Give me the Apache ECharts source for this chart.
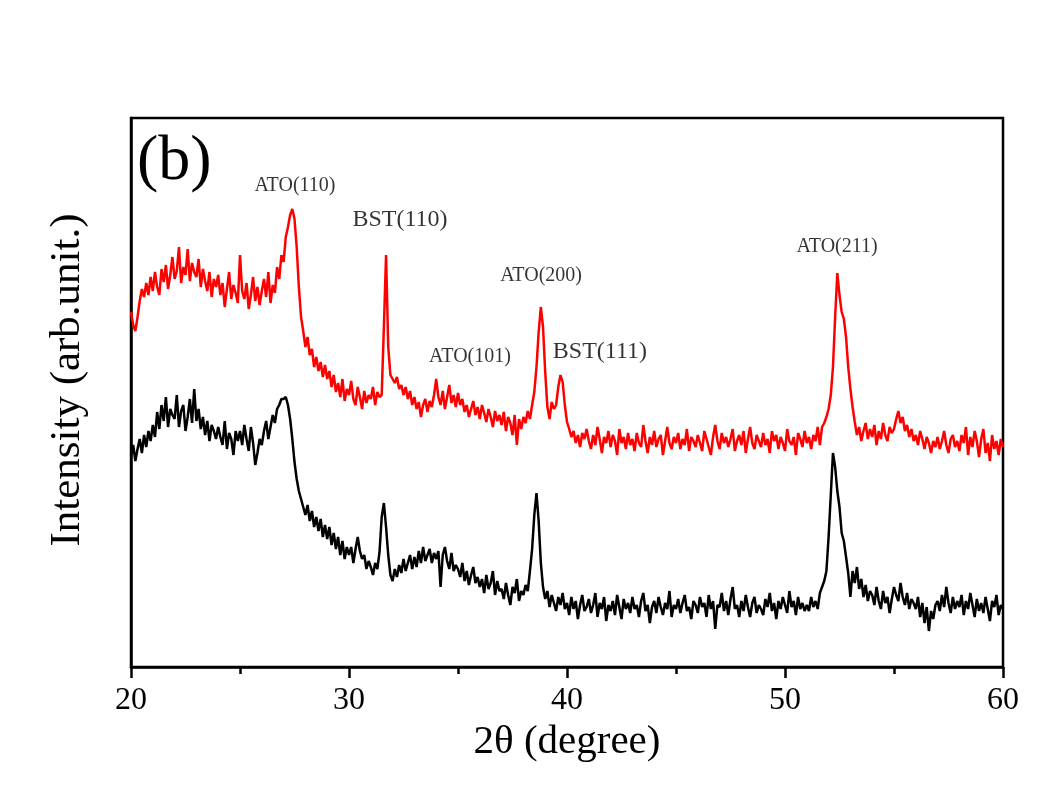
<!DOCTYPE html>
<html>
<head>
<meta charset="utf-8">
<script src="https://cdn.jsdelivr.net/npm/echarts@6/dist/echarts.min.js"></script>
<style>
html,body{margin:0;padding:0;background:#fff;}
#chart{width:1038px;height:803px;}
</style>
</head>
<body>
<div id="chart"></div>
<script>
// 2θ axis: from 20.0 to 60.0 in 0.1 degree steps
const thetaStart = 20.0;
const thetaStep = 0.1;
const xTicks = [20, 30, 40, 50, 60];

// Upper (red) pattern, arbitrary intensity units
const redIntensity = [
  355,342,336,350,366,378,370,384,372,390,
  376,395,380,372,398,385,402,378,392,410,
  388,396,420,384,400,392,418,386,404,395,
  390,408,380,398,386,376,395,370,388,380,
  392,372,384,360,378,395,368,382,374,364,
  412,376,368,384,358,372,390,366,380,362,
  376,388,370,395,364,382,374,400,388,412,
  405,430,440,452,458,448,420,380,350,336,
  320,330,312,318,300,310,296,305,290,302,
  288,296,280,292,275,284,270,288,266,278,
  272,286,268,262,280,270,258,276,264,272,
  268,280,262,275,270,272,340,412,320,292,
  288,284,290,278,282,272,280,268,276,262,
  270,258,265,250,262,268,255,266,260,272,
  288,270,262,276,258,270,282,264,272,260,
  274,262,268,255,262,250,258,266,252,260,
  248,262,254,245,258,250,240,256,246,252,
  242,255,236,250,244,232,252,222,248,238,
  250,244,256,248,262,275,300,335,360,340,
  295,260,248,265,258,262,280,292,285,262,
  245,238,230,236,224,232,220,234,228,238,
  226,218,232,222,240,228,214,230,224,236,
  220,232,226,212,238,224,230,218,234,222,
  228,216,234,224,220,242,226,214,230,222,
  236,220,228,232,212,226,240,224,218,230,
  224,234,218,228,222,238,216,230,226,220,
  232,224,216,236,228,220,212,230,242,226,
  218,234,224,230,220,228,238,216,226,232,
  222,236,214,228,240,224,218,232,226,220,
  234,222,228,214,236,226,232,218,230,224,
  216,238,226,222,230,212,234,228,220,236,
  224,230,218,232,226,240,222,240,244,250,
  258,272,300,350,394,372,355,348,330,300,
  278,260,245,232,240,226,236,244,228,238,
  230,242,222,236,228,244,232,226,240,234,
  238,248,256,244,250,236,242,230,238,226,
  232,222,236,228,218,230,224,214,226,220,
  230,218,226,236,222,214,228,232,220,226,
  216,232,224,240,212,230,220,236,226,210,
  228,238,214,224,206,232,218,226,212,228,
  220
];

// Lower (black) pattern, arbitrary intensity units
const blackIntensity = [
  212,222,206,218,228,214,232,220,236,226,
  242,230,255,238,262,246,270,240,258,252,
  248,272,240,256,262,236,250,268,244,278,
  246,258,238,250,232,246,226,242,236,228,
  240,230,222,246,218,234,228,212,236,226,
  236,222,242,228,216,240,224,202,214,228,
  222,236,246,228,240,252,244,258,262,268,
  268,270,262,248,228,205,188,176,168,160,
  152,162,146,156,140,150,136,148,130,142,
  128,140,122,134,118,130,112,126,108,120,
  112,120,104,118,130,116,108,112,98,106,
  100,92,104,98,115,150,164,140,112,92,
  86,98,90,102,94,108,96,104,112,98,
  110,100,116,104,120,106,112,118,104,114,
  108,116,80,112,120,106,98,114,96,102,
  98,90,104,86,96,82,92,100,84,90,
  80,88,74,92,78,84,96,72,86,76,
  78,68,84,72,62,80,74,88,66,76,
  72,82,76,96,118,152,174,146,104,80,
  68,76,60,72,64,56,70,62,74,58,
  64,52,70,58,66,48,62,72,56,60,
  68,54,62,74,50,64,58,70,46,62,
  56,66,52,72,60,48,68,58,64,54,
  70,58,62,50,66,74,56,62,44,60,
  66,54,70,60,52,64,58,76,50,62,
  58,68,54,64,72,56,60,48,66,62,
  54,70,60,64,50,72,58,66,38,62,
  60,74,56,66,52,68,80,58,62,50,
  66,56,72,60,50,64,70,54,62,58,
  52,68,60,74,56,64,48,66,58,70,
  62,54,76,60,66,52,70,58,64,56,
  62,56,70,60,66,58,74,80,86,96,
  130,172,214,200,176,160,134,126,110,94,
  70,96,84,100,78,88,70,82,66,76,
  72,62,80,66,58,76,64,70,54,68,
  80,72,66,84,70,62,74,58,68,64,
  58,70,50,64,44,60,36,56,48,62,
  66,56,72,60,80,64,54,70,58,66,
  60,72,52,66,58,74,62,50,68,56,
  64,54,70,58,46,66,60,72,52,62,
  58
];

// Peak labels: [2θ, intensity, text]
const peakLabels = [
  [27.52, 481, 'ATO(110)'],
  [32.34, 447, 'BST(110)'],
  [38.81, 391, 'ATO(200)'],
  [35.55, 310, 'ATO(101)'],
  [41.51, 315, 'BST(111)'],
  [52.39, 420, 'ATO(211)']
];

const panelLabel = '(b)';
const xTitle = '2θ (degree)';
const yTitle = 'Intensity (arb.unit.)';

const toPairs = arr => arr.map((v, i) => [+(thetaStart + i * thetaStep).toFixed(1), v]);

const serif = "'Liberation Serif','Times New Roman',serif";
const chart = echarts.init(document.getElementById('chart'), null, {renderer: 'canvas'});

chart.setOption({
  backgroundColor: '#ffffff',
  animation: false,
  grid: {left: 131, right: 35, top: 118, bottom: 136, show: true, borderColor: '#000', borderWidth: 2.5, backgroundColor: 'transparent'},
  xAxis: {
    type: 'value', min: xTicks[0], max: xTicks[xTicks.length - 1], interval: 10,
    name: xTitle, nameLocation: 'middle', nameGap: 52,
    nameTextStyle: {fontFamily: serif, fontSize: 41, color: '#000'},
    axisLine: {show: true, lineStyle: {color: '#000', width: 2.5}},
    axisTick: {show: true, inside: false, length: 11, lineStyle: {color: '#000', width: 2.5}},
    minorTick: {show: true, splitNumber: 2, length: 7, lineStyle: {color: '#000', width: 2.5}},
    axisLabel: {fontFamily: serif, fontSize: 32, color: '#000', margin: 18},
    splitLine: {show: false}
  },
  yAxis: {
    type: 'value', min: 0, max: 549,
    axisLine: {show: true, lineStyle: {color: '#000', width: 2.5}},
    axisTick: {show: false}, axisLabel: {show: false}, splitLine: {show: false}
  },
  graphic: [{
    type: 'text', left: 137, top: 130,
    style: {text: panelLabel, font: "64px 'Liberation Serif', serif", fill: '#000'}
  }, {
    type: 'text', x: 68, y: 380, rotation: Math.PI / 2,
    style: {text: yTitle, font: "43px 'Liberation Serif', serif", fill: '#000', textAlign: 'center', textVerticalAlign: 'middle'}
  }],
  series: [
    {type: 'line', name: 'red', data: toPairs(redIntensity), showSymbol: false, symbol: 'none',
     lineStyle: {color: '#ff0000', width: 2.5}, z: 3},
    {type: 'line', name: 'black', data: toPairs(blackIntensity), showSymbol: false, symbol: 'none',
     lineStyle: {color: '#000000', width: 2.5}, z: 2},
    {type: 'scatter', symbolSize: 0, silent: true,
     data: peakLabels.map(p => ({
       value: [p[0], p[1]],
       label: {show: true, position: 'inside', formatter: p[2],
         fontFamily: serif, color: '#000', fontSize: p[2].startsWith('BST') ? 24 : 20}
     }))}
  ]
});
</script>
</body>
</html>
